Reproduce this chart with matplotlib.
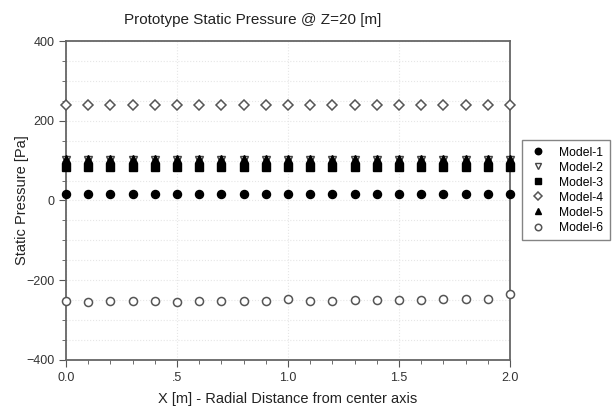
import numpy as np
import matplotlib.pyplot as plt
from matplotlib.ticker import MultipleLocator, FixedLocator

plt.rcParams['font.family'] = ['Liberation Sans', 'DejaVu Sans']

# Radial positions [m]
x = [0.0, 0.1, 0.2, 0.3, 0.4, 0.5, 0.6, 0.7, 0.8, 0.9, 1.0,
     1.1, 1.2, 1.3, 1.4, 1.5, 1.6, 1.7, 1.8, 1.9, 2.0]

# Static pressure [Pa] for each model
model_1 = [17, 17, 17, 17, 17, 17, 17, 17, 17, 17, 17,
           17, 17, 17, 17, 17, 17, 17, 17, 17, 17]
model_2 = [101, 101, 101, 101, 101, 101, 101, 101, 101, 101, 101,
           101, 101, 101, 101, 101, 101, 101, 101, 101, 101]
model_3 = [84, 84, 84, 84, 84, 84, 84, 84, 84, 84, 84,
           84, 84, 84, 84, 84, 84, 84, 84, 84, 84]
model_4 = [240, 240, 240, 240, 240, 240, 240, 240, 240, 240, 240,
           240, 240, 240, 240, 240, 240, 240, 240, 240, 240]
model_5 = [104, 104, 104, 104, 104, 104, 104, 104, 104, 104, 104,
           104, 104, 104, 104, 104, 104, 104, 104, 104, 104]
model_6 = [-252, -255, -251, -252, -253, -254, -252, -253, -253, -251, -248,
           -251, -251, -249, -250, -249, -249, -248, -248, -248, -234]

fig = plt.figure(figsize=(6.16, 4.09), dpi=100)
ax = fig.add_axes([66 / 616, 1 - 360 / 409, 444 / 616, 319 / 409])

ms = 5.8
ax.plot(x, model_1, 'o', color='black', ms=ms, label='Model-1', clip_on=False, zorder=3)
ax.plot(x, model_2, 'v', mfc='white', mec='#444444', ms=ms, label='Model-2', clip_on=False, zorder=3)
ax.plot(x, model_3, 's', color='black', ms=ms - 0.6, label='Model-3', clip_on=False, zorder=3)
ax.plot(x, model_4, 'D', mfc='white', mec='#555555', mew=1.1, ms=ms - 0.9, label='Model-4', clip_on=False, zorder=3)
ax.plot(x, model_5, '^', color='black', ms=ms, label='Model-5', clip_on=False, zorder=3)
ax.plot(x, model_6, 'o', mfc='white', mec='#555555', mew=1.1, ms=ms, label='Model-6', clip_on=False, zorder=3)

ax.set_xlim(0, 2.0)
ax.set_ylim(-400, 400)
ax.xaxis.set_major_locator(FixedLocator([0, 0.5, 1.0, 1.5, 2.0]))
ax.set_xticklabels(['0.0', '.5', '1.0', '1.5', '2.0'])
ax.xaxis.set_minor_locator(MultipleLocator(0.1))
ax.yaxis.set_major_locator(MultipleLocator(200))
ax.yaxis.set_minor_locator(MultipleLocator(50))

ax.grid(which='major', color='#e6e6e6', lw=0.8, ls=':')
ax.grid(which='minor', axis='y', color='#e6e6e6', lw=0.8, ls=':')
ax.set_axisbelow(True)

for s in ax.spines.values():
    s.set_color('#666666')
    s.set_linewidth(1.3)
ax.tick_params(which='both', direction='out', colors='#555555', labelcolor='#333333', labelsize=9)
ax.tick_params(which='major', length=5)
ax.tick_params(which='minor', length=3)

ax.set_xlabel('X [m] - Radial Distance from center axis', fontsize=10.5, color='#222222', labelpad=6)
ax.set_ylabel('Static Pressure [Pa]', fontsize=10.5, color='#222222', labelpad=-2)
fig.text(253 / 616, 1 - 20 / 409, 'Prototype Static Pressure @ Z=20 [m]',
         ha='center', va='center', fontsize=11, color='#222222')

leg = ax.legend(loc='upper left', bbox_to_anchor=(522 / 616, 1 - 140 / 409),
                bbox_transform=fig.transFigure, fontsize=8.7, frameon=True,
                fancybox=False, edgecolor='#666666', borderpad=0.55,
                borderaxespad=0, labelspacing=0.25, handletextpad=1.0,
                handlelength=1.5, markerscale=0.8)
leg.get_frame().set_linewidth(1.0)

plt.savefig('out.png', dpi=100)
